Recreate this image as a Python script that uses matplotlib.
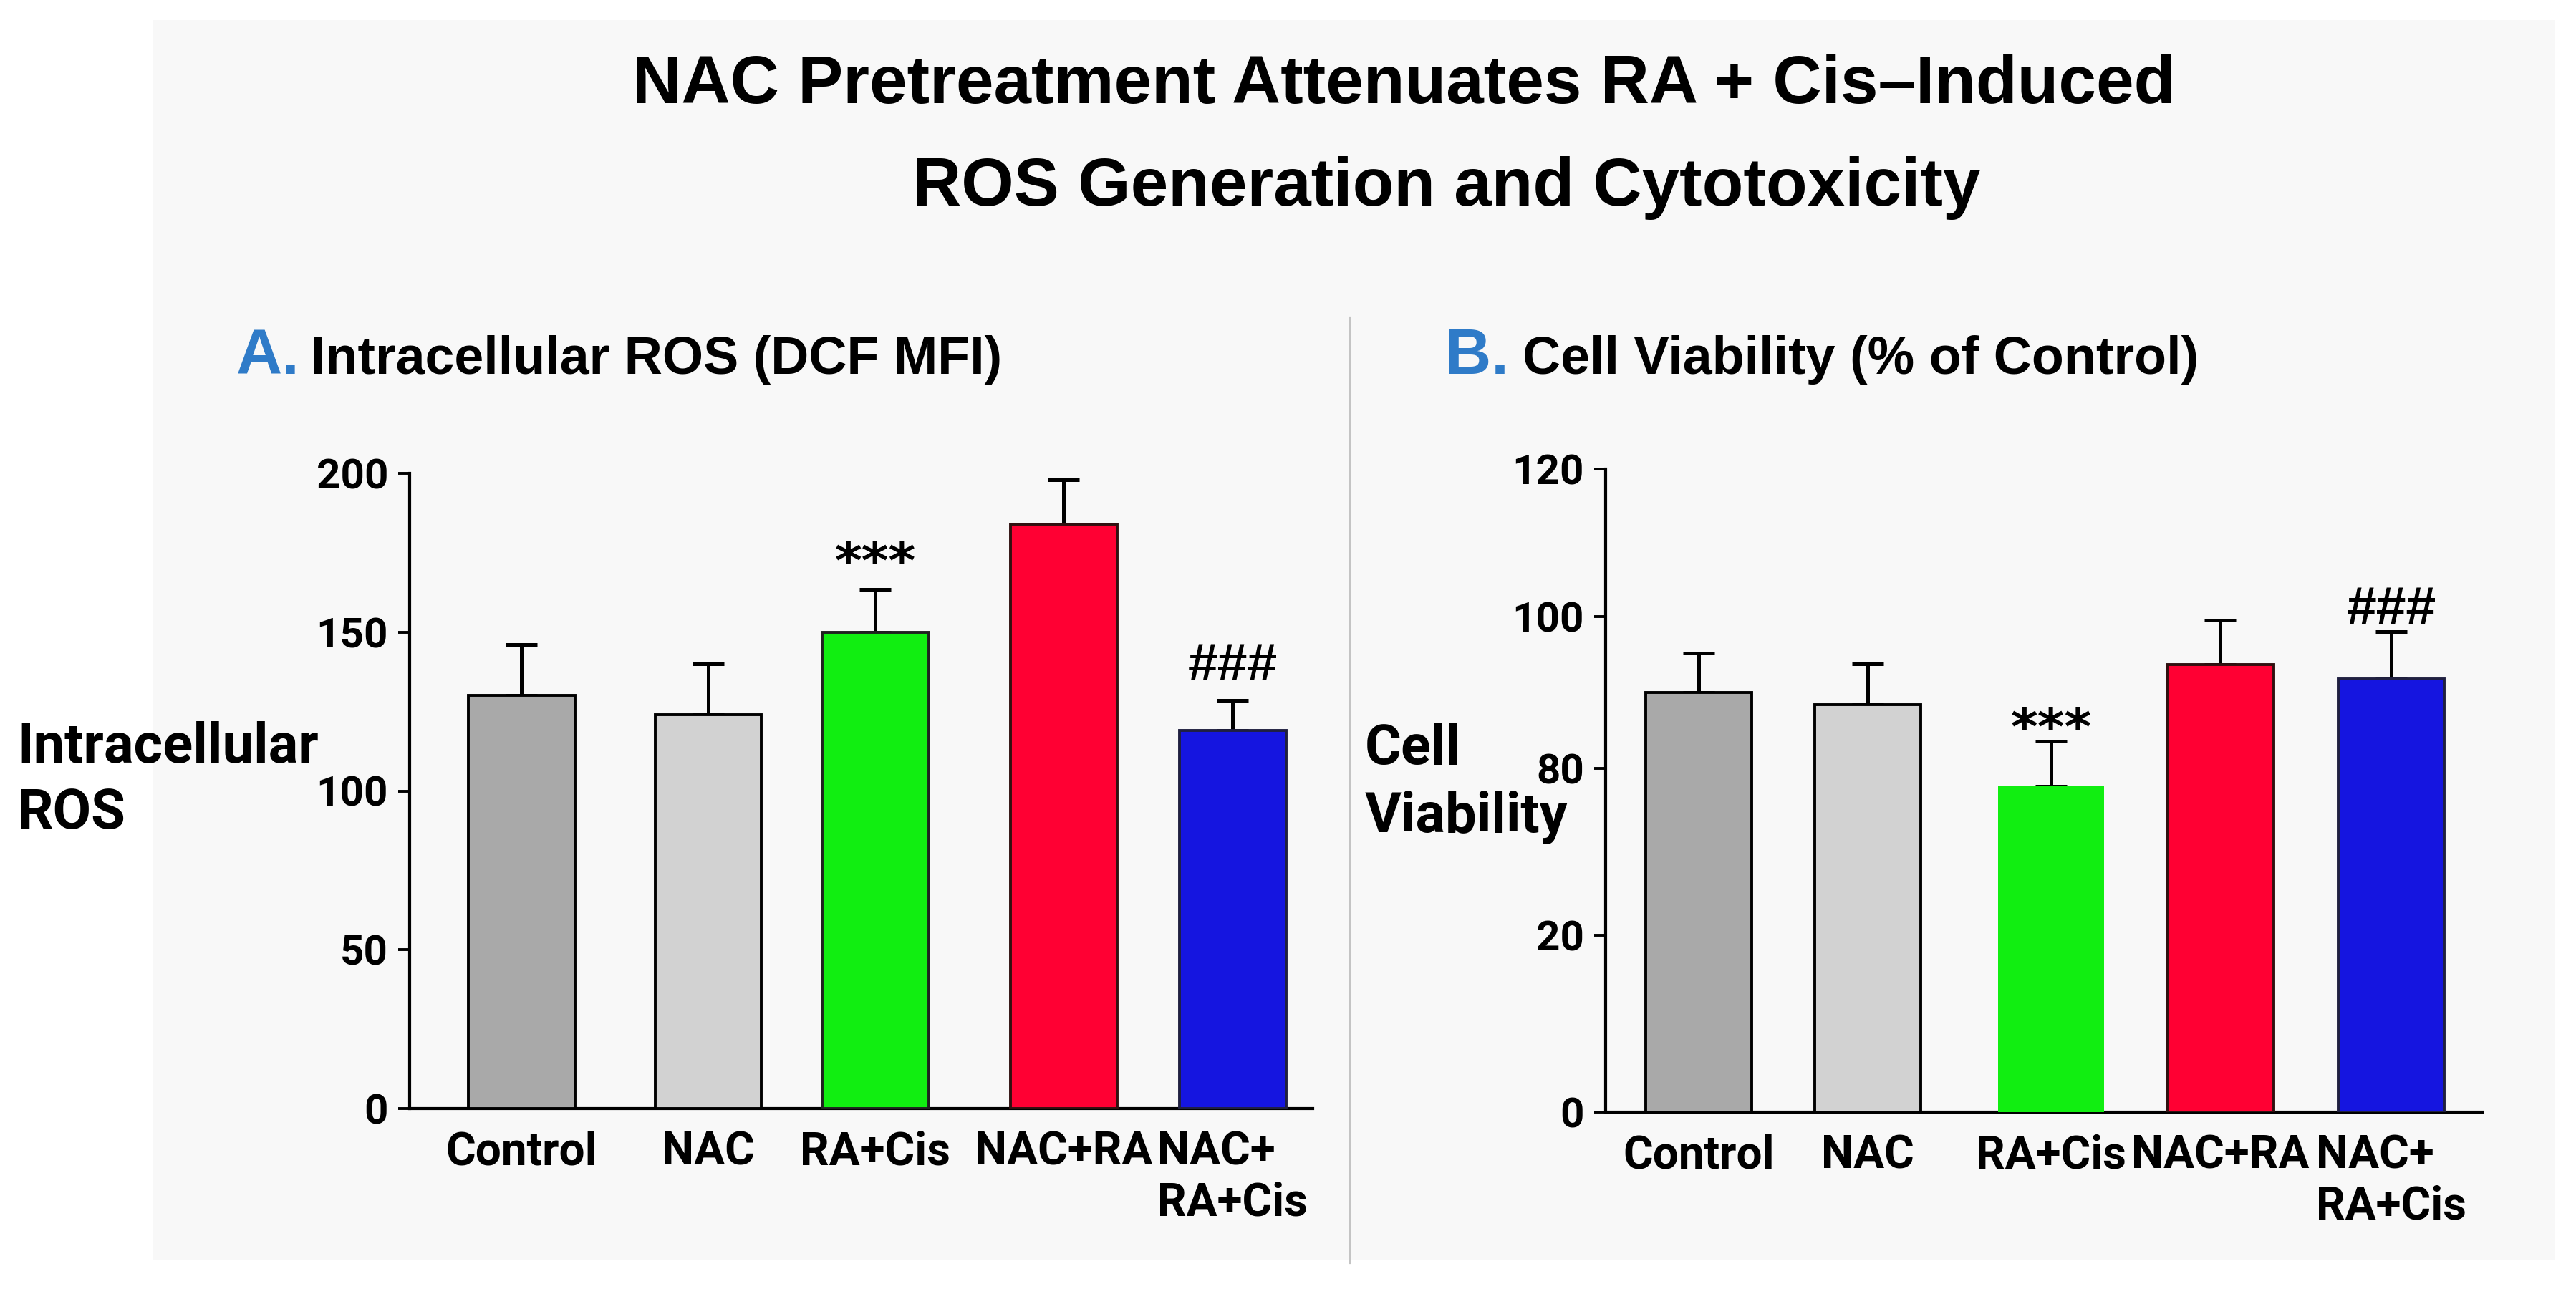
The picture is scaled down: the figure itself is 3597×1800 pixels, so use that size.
import numpy as np
import matplotlib
matplotlib.use("Agg")
import matplotlib.pyplot as plt
import matplotlib.ticker as mticker
from matplotlib.patches import Rectangle
from matplotlib.lines import Line2D

# ---- data ----
groups = ["Control", "NAC", "RA+Cis", "NAC+RA", "NAC+\nRA+Cis"]
ros_mean = [130, 124, 150, 184, 119]
ros_sem = [16, 16, 13.5, 14, 9.5]
via_mean = [90.0, 88.4, 73.4, 93.7, 91.8]
via_sem = [5.2, 5.4, 10.2, 5.8, 6.2]
ros_ticks = [0, 50, 100, 150, 200]
via_ticks = [0, 20, 80, 100, 120]
ros_marks = {2: "***", 4: "###"}
via_marks = {2: "***", 4: "###"}

# ---- layout / style ----
W, H = 3597, 1800
DPI = 200
colors = ["#a9a9a9", "#d2d2d2", "#11ee11", "#ff0033", "#1515e0"]
LABEL_FONT = ["Roboto", "DejaVu Sans"]
SANS = ["Liberation Sans", "DejaVu Sans"]
# where the uneven tick labels of panel B sit on a 0-120 axis
via_tick_pos = [0, 33.07, 64.2, 92.45, 120]


def fx(px):
    return px / W


def fy(py):
    return 1 - py / H


fig = plt.figure(figsize=(W / DPI, H / DPI), dpi=DPI, facecolor="white")
fig.patches.append(Rectangle((fx(213), fy(1760)), fx(3567) - fx(213), fy(28) - fy(1760),
                             transform=fig.transFigure, facecolor="#f8f8f8",
                             edgecolor="none", zorder=-10))
fig.lines.append(Line2D([fx(1885), fx(1885)], [fy(443), fy(1764)],
                        transform=fig.transFigure, color="#c4c4c4", lw=0.8))

fig.text(fx(1960), fy(144), "NAC Pretreatment Attenuates RA + Cis\u2013Induced",
         ha="center", va="baseline", fontsize=34, fontweight="bold", family=SANS)
fig.text(fx(2020), fy(287), "ROS Generation and Cytotoxicity",
         ha="center", va="baseline", fontsize=34, fontweight="bold", family=SANS)


def panel(rect, xpos, xmax, means, sems, ticks, marks, mark_offsets,
          letter, letter_x, title, title_x, ylab, ylab_x, ylab_y, edge_list,
          yscale=None):
    ax = fig.add_axes(rect)
    ax.set_facecolor("none")
    if yscale is not None:
        ax.set_yscale("function", functions=yscale)
    ax.bar(xpos, means, width=0.6, color=colors, edgecolor=edge_list,
           linewidth=1.4, zorder=3)
    ax.errorbar(xpos, means, yerr=[np.zeros(len(means)), sems], fmt="none",
                ecolor="black", elinewidth=1.8, capsize=8, capthick=1.8, zorder=2)
    for i, txt in marks.items():
        if txt == "***":
            fam, fs = ["DejaVu Sans"], 26
        else:
            fam, fs = SANS, 27
        ax.annotate(txt, xy=(xpos[i], means[i] + sems[i]),
                    xytext=(0, mark_offsets[txt]), textcoords="offset points",
                    ha="center", va="baseline", fontsize=fs,
                    family=fam, fontweight="bold")
    ax.set_xlim(0, xmax)
    ax.set_ylim(ticks[0], ticks[-1])
    ax.set_yticks(ticks)
    ax.yaxis.set_minor_locator(mticker.NullLocator())
    ax.set_yticklabels([str(t) for t in ticks], family=LABEL_FONT,
                       fontweight="bold", fontsize=21)
    ax.set_xticks(xpos)
    ax.set_xticklabels(groups, family=LABEL_FONT, fontweight="bold", fontsize=23,
                       multialignment="left", va="top")
    ax.tick_params(axis="x", length=0, pad=11)
    ax.tick_params(axis="y", length=5.8, width=1.4, pad=5)
    for s in ["top", "right"]:
        ax.spines[s].set_visible(False)
    for s in ["left", "bottom"]:
        ax.spines[s].set_linewidth(1.5)

    fig.text(fx(letter_x), fy(522), letter, ha="left", va="baseline",
             fontsize=32, fontweight="bold", color="#2f7bc8", family=SANS)
    fig.text(fx(title_x), fy(522), title, ha="left", va="baseline",
             fontsize=26.5, fontweight="bold", family=SANS)
    for line, yb in zip(ylab, ylab_y):
        fig.text(fx(ylab_x), fy(yb), line, ha="left", va="baseline",
                 fontsize=28, fontweight="bold", family=LABEL_FONT)
    return ax


def fwd(v):
    return np.interp(v, via_ticks, via_tick_pos)


def inv(v):
    return np.interp(v, via_tick_pos, via_ticks)


axA = panel([fx(572), fy(1548), fx(1833) - fx(572), fy(661) - fy(1548)],
            [0.63, 1.68, 2.62, 3.68, 4.63], 5.08,
            ros_mean, ros_sem, ros_ticks, ros_marks, {"***": 5.5, "###": 10},
            "A.", 330, "Intracellular ROS (DCF MFI)", 434,
            ["Intracellular", "ROS"], 24, [1065, 1157],
            ["black", "black", "#202020", "#301010", "#202040"])

axB = panel([fx(2242), fy(1553), fx(3466) - fx(2242), fy(655) - fy(1553)],
            [0.524, 1.476, 2.508, 3.46, 4.423], 4.935,
            via_mean, via_sem, via_ticks, via_marks, {"***": -2, "###": 4},
            "B.", 2018, "Cell Viability (% of Control)", 2126,
            ["Cell", "Viability"], 1906, [1067, 1162],
            ["black", "black", "none", "#301010", "#202040"],
            yscale=(fwd, inv))

fig.savefig("out.png", dpi=DPI, facecolor="white")
